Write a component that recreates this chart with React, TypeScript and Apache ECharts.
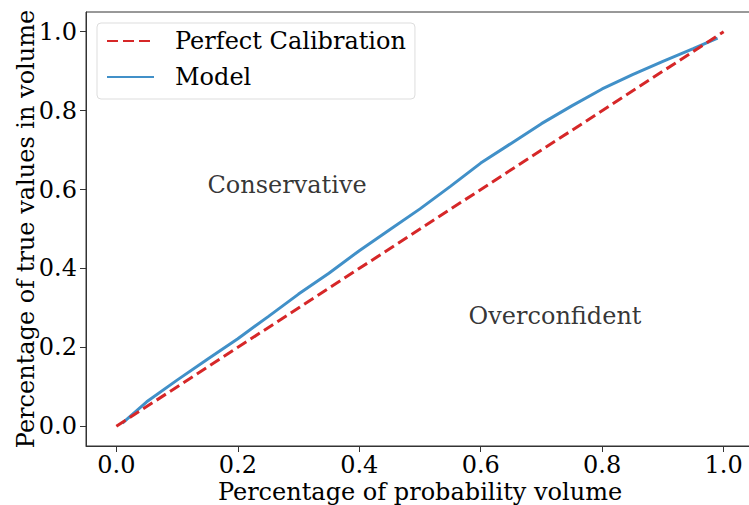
import React, { useEffect, useRef } from "react";
import * as echarts from "echarts";

const tickValues = [0, 0.2, 0.4, 0.6, 0.8, 1.0];
const perfectX = [0, 1];
const perfectY = [0, 1];
const modelX = [0.01, 0.05, 0.1, 0.15, 0.2, 0.25, 0.3, 0.35, 0.4, 0.45, 0.5, 0.55, 0.6, 0.65, 0.7, 0.75, 0.8, 0.85, 0.9, 0.95, 0.99];
const modelY = [0.008, 0.062, 0.117, 0.17, 0.222, 0.278, 0.335, 0.388, 0.445, 0.498, 0.551, 0.608, 0.667, 0.717, 0.767, 0.812, 0.855, 0.891, 0.925, 0.957, 0.984];
const annotations = [
  { text: "Conservative", x: 0.15, y: 0.582 },
  { text: "Overconfident", x: 0.58, y: 0.25 },
];

const FONT = "DejaVu Serif";
const FS = 24;

export default function App() {
  const ref = useRef<HTMLDivElement>(null);
  useEffect(() => {
    if (!ref.current) return;
    const chart = echarts.init(ref.current, undefined, { renderer: "svg" });
    chart.setOption({
      animation: false,
      backgroundColor: "#fff",
      textStyle: { fontFamily: FONT },
      grid: {
        left: 86,
        top: 12,
        width: 668,
        height: 434,
        show: true,
        borderColor: "#333",
        borderWidth: 1,
        backgroundColor: "transparent",
        containLabel: false,
        outerBoundsMode: "none",
      },
      legend: {
        left: 97,
        top: 23,
        orient: "vertical",
        itemWidth: 47,
        itemHeight: 14,
        itemGap: 12,
        padding: [6, 9, 10, 9],
        borderColor: "#ddd",
        borderWidth: 1,
        borderRadius: 4,
        backgroundColor: "rgba(255,255,255,0.8)",
        itemStyle: { opacity: 0 },
        textStyle: { fontFamily: FONT, fontSize: FS, color: "#000", padding: [0, 0, 0, 16] },
        data: ["Perfect Calibration", "Model"],
      },
      xAxis: {
        type: "value",
        min: -0.05,
        max: 1.05,
        name: "Percentage of probability volume",
        nameLocation: "middle",
        nameGap: 34,
        nameMoveOverlap: false,
        nameTextStyle: { fontFamily: FONT, fontSize: FS, color: "#000" },
        splitLine: { show: false },
        axisLine: { show: true, onZero: false, lineStyle: { color: "#333" } },
        axisTick: { show: true, inside: false, length: 6, lineStyle: { color: "#333" }, customValues: tickValues },
        axisLabel: {
          fontFamily: FONT,
          fontSize: FS,
          color: "#000",
          margin: 7,
          customValues: tickValues,
          formatter: (v: number) => v.toFixed(1),
        },
      },
      yAxis: {
        type: "value",
        min: -0.05,
        max: 1.05,
        name: "Percentage of true values in volume",
        nameLocation: "middle",
        nameGap: 48,
        nameMoveOverlap: false,
        nameRotate: 90,
        nameTextStyle: { fontFamily: FONT, fontSize: FS, color: "#000" },
        splitLine: { show: false },
        axisLine: { show: true, onZero: false, lineStyle: { color: "#333" } },
        axisTick: { show: true, inside: false, length: 6, lineStyle: { color: "#333" }, customValues: tickValues },
        axisLabel: {
          fontFamily: FONT,
          fontSize: FS,
          color: "#000",
          margin: 9,
          customValues: tickValues,
          formatter: (v: number) => v.toFixed(1),
        },
      },
      series: [
        {
          name: "Perfect Calibration",
          type: "line",
          data: perfectX.map((x, i) => [x, perfectY[i]]),
          showSymbol: false,
          symbol: "none",
          lineStyle: { color: "#d62728", width: 3, type: [11, 5] },
          itemStyle: { color: "#d62728" },
          z: 3,
        },
        {
          name: "Model",
          type: "line",
          data: modelX.map((x, i) => [x, modelY[i]]),
          showSymbol: false,
          symbol: "none",
          lineStyle: { color: "#4190c8", width: 3 },
          itemStyle: { color: "#4190c8" },
          z: 2,
        },
        {
          name: "annotations",
          type: "scatter",
          symbolSize: 0,
          silent: true,
          data: annotations.map((a) => ({ value: [a.x, a.y], name: a.text })),
          label: {
            show: true,
            position: [0, 0],
            align: "left",
            verticalAlign: "bottom",
            formatter: (p: any) => p.name,
            fontFamily: FONT,
            fontSize: FS,
            color: "#000",
          },
        },
      ],
    });
    return () => chart.dispose();
  }, []);
  return <div ref={ref} style={{ width: 749, height: 505, position: "absolute", left: 0, top: 0 }} />;
}
